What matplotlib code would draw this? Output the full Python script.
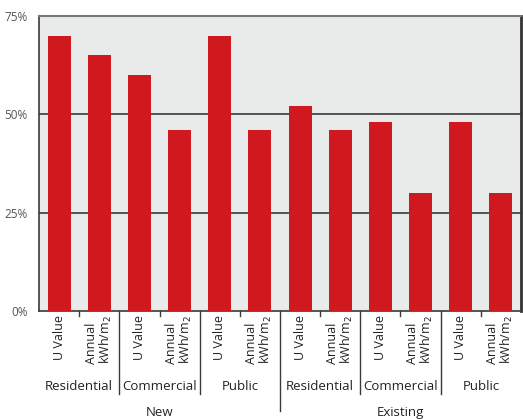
import matplotlib
matplotlib.use("Agg")
import matplotlib.pyplot as plt

plt.rcParams['font.family'] = ['Open Sans', 'DejaVu Sans']

# data
sectors = ["Residential", "Commercial", "Public"]
stages = ["New", "Existing"]
measures = ["U Value", "Annual\nkWh/m$_2$"]
values = [70, 65, 60, 46, 70, 46,   # New
          52, 46, 48, 30, 48, 30]   # Existing
yticks = [0, 25, 50, 75]
ytick_labels = ["0%", "25%", "50%", "75%"]

red = "#d0181f"
bg = "#e9ebeb"
dark = "#3a3a3a"

fig = plt.figure(figsize=(5.23, 4.19), dpi=100)
ax = fig.add_axes([39 / 523, 1 - 311 / 419, 482 / 523, 295 / 419])
ax.set_facecolor(bg)

n = len(values)
xs = list(range(n))
ax.bar(xs, values, width=0.57, color=red, zorder=3)

ax.set_xlim(-0.5, n - 0.5)
ax.set_ylim(0, 75)
ax.set_yticks(yticks)
ax.set_yticklabels(ytick_labels, fontsize=8.5, color="#555555")
ax.tick_params(axis='y', length=0, pad=8)

for y in [25, 50]:
    ax.axhline(y, color=dark, linewidth=1.2, zorder=2)

labels = [measures[i % 2] for i in xs]
ax.set_xticks(xs)
ax.set_xticklabels(labels, rotation=90, fontsize=9, va='top', ha='center',
                   multialignment='left', color="#222222", linespacing=1.0)
ax.tick_params(axis='x', length=0, pad=3)

for s in ['left', 'bottom']:
    ax.spines[s].set_color(dark)
    ax.spines[s].set_linewidth(1.2)
ax.spines['top'].set_color("#777777")
ax.spines['top'].set_linewidth(1.5)
ax.spines['right'].set_color("#333333")
ax.spines['right'].set_linewidth(2)

tr = ax.get_xaxis_transform()
# small ticks between measures inside a sector
for i in range(0, n, 2):
    ax.plot([i + 0.5, i + 0.5], [0, -0.018], transform=tr, color=dark,
            linewidth=1, clip_on=False)
# separators between sectors / stages
per_stage = len(sectors) * len(measures)
for i in range(1, n // 2):
    x = i * 2 - 0.5
    bottom = -0.34 if (i * 2) % per_stage == 0 else -0.28
    ax.plot([x, x], [0, bottom], transform=tr, color=dark, linewidth=1,
            clip_on=False)

# sector labels
for i in range(n // 2):
    ax.text(i * 2 + 0.5, -0.255, sectors[i % len(sectors)], transform=tr,
            ha='center', va='center', fontsize=9.5, color="#222222")
# stage labels
for k, st in enumerate(stages):
    ax.text(k * per_stage + (per_stage - 1) / 2, -0.345, st, transform=tr,
            ha='center', va='center', fontsize=9.5, color="#222222")

fig.savefig("out.png", dpi=100, facecolor="white")
